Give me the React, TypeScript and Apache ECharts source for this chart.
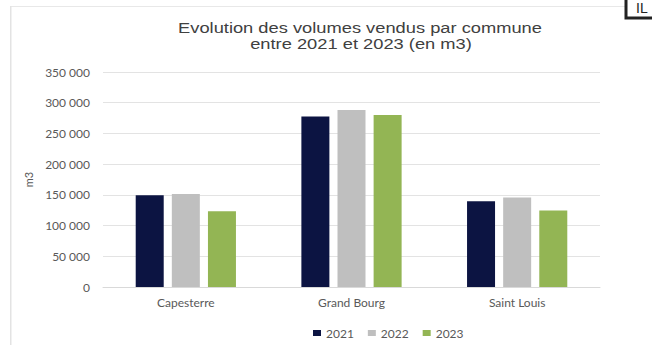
import React, { useEffect, useRef } from "react";
import * as echarts from "echarts";

const categories = ["Capesterre", "Grand Bourg", "Saint Louis"];
const seriesNames = ["2021", "2022", "2023"];
const values2021 = [149500, 277500, 139500];
const values2022 = [151500, 288000, 145500];
const values2023 = [123500, 280000, 124500];
const colors = ["#0c1442", "#bfbfbf", "#93b554"];
const titleLines = ["Evolution des volumes vendus par commune", "entre 2021 et 2023 (en m3)"];

const fmt = (v: number) => {
  if (v === 0) return "0";
  const s = String(Math.round(v));
  return s.replace(/\B(?=(\d{3})+(?!\d))/g, " ");
};

export default function App() {
  const ref = useRef<HTMLDivElement>(null);
  useEffect(() => {
    if (!ref.current) return;
    const chart = echarts.init(ref.current, null, { renderer: "svg" });
    const data = [values2021, values2022, values2023];
    chart.setOption({
      animation: false,
      backgroundColor: "#ffffff",
      textStyle: { fontFamily: "Lato, 'Liberation Sans', sans-serif" },
      grid: { left: 103, right: 52, top: 72, bottom: 58 },
      legend: {
        data: seriesNames,
        left: 308,
        top: 322,
        itemWidth: 8,
        itemHeight: 6,
        itemGap: 14,
        icon: "rect",
        textStyle: { fontSize: 12, color: "#595959", fontFamily: "Lato, sans-serif" },
      },
      xAxis: {
        type: "category",
        data: categories,
        axisTick: { show: false },
        axisLine: { lineStyle: { color: "#d9d9d9", width: 1 } },
        axisLabel: { fontSize: 12, color: "#595959", margin: 9, fontFamily: "Lato, sans-serif" },
      },
      yAxis: {
        type: "value",
        min: 0,
        max: 350000,
        interval: 50000,
        name: "m3",
        nameLocation: "middle",
        nameGap: 68,
        nameRotate: 90,
        nameTextStyle: { fontSize: 11, color: "#595959" },
        axisLine: { show: false },
        axisTick: { show: false },
        splitLine: { lineStyle: { color: "#e3e3e3", width: 1 } },
        axisLabel: {
          fontSize: 12,
          color: "#595959",
          margin: 13,
          formatter: (v: number) => fmt(v),
          fontFamily: "Lato, sans-serif",
        },
      },
      series: seriesNames.map((n, i) => ({
        name: n,
        type: "bar",
        data: data[i],
        barWidth: 28,
        barGap: "29%",
        itemStyle: { color: colors[i] },
      })),
      graphic: [
        { type: "rect", shape: { x: 10, y: 6, width: 615, height: 1 }, style: { fill: "#e8e8e8" } },
        { type: "rect", shape: { x: 10, y: 6, width: 1.5, height: 340 }, style: { fill: "#e3e3e3" } },
        {
          type: "rect",
          shape: { x: 626, y: -4, width: 30, height: 22 },
          style: { fill: "#ffffff", stroke: "#222222", lineWidth: 3 },
        },
        {
          type: "text",
          x: 636,
          y: 1,
          style: { text: "IL", fontSize: 14, fill: "#222222", fontFamily: "'Liberation Sans', Arial, sans-serif" },
        },
        {
          type: "text",
          x: 360,
          y: 21,
          scaleX: 1.22,
          style: {
            text: titleLines[0],
            fontSize: 15,
            fill: "#404040",
            align: "center",
            fontFamily: "'Liberation Sans', Arial, sans-serif",
          },
        },
        {
          type: "text",
          x: 361,
          y: 37,
          scaleX: 1.22,
          style: {
            text: titleLines[1],
            fontSize: 15,
            fill: "#404040",
            align: "center",
            fontFamily: "'Liberation Sans', Arial, sans-serif",
          },
        },
      ],
    });
    return () => chart.dispose();
  }, []);
  return <div ref={ref} style={{ width: 652, height: 345, position: "absolute", left: 0, top: 0 }} />;
}
